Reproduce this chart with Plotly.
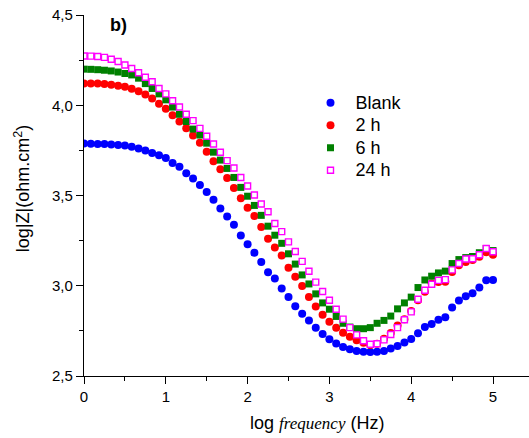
import plotly.graph_objects as go

log_freq = [0.0, 0.083, 0.167, 0.25, 0.333, 0.417, 0.5, 0.583, 0.667, 0.75,
            0.833, 0.917, 1.0, 1.083, 1.167, 1.25, 1.333, 1.417, 1.5, 1.583,
            1.667, 1.75, 1.833, 1.917, 2.0, 2.083, 2.167, 2.25, 2.333, 2.417,
            2.5, 2.583, 2.667, 2.75, 2.833, 2.917, 3.0, 3.083, 3.167, 3.25,
            3.333, 3.417, 3.5, 3.583, 3.667, 3.75, 3.833, 3.917, 4.0, 4.083,
            4.167, 4.25, 4.333, 4.417, 4.5, 4.583, 4.667, 4.75, 4.833, 4.917, 5.0]

blank = [3.788, 3.787, 3.786, 3.785, 3.783, 3.780, 3.777, 3.770, 3.760, 3.749,
         3.736, 3.723, 3.708, 3.680, 3.659, 3.623, 3.594, 3.558, 3.520, 3.476,
         3.428, 3.384, 3.338, 3.278, 3.230, 3.183, 3.132, 3.075, 3.040, 2.985,
         2.938, 2.887, 2.845, 2.808, 2.767, 2.733, 2.704, 2.680, 2.661, 2.648,
         2.638, 2.634, 2.633, 2.634, 2.638, 2.652, 2.666, 2.686, 2.705, 2.737,
         2.772, 2.788, 2.812, 2.825, 2.880, 2.918, 2.942, 2.958, 2.990, 3.030, 3.032]

h2 = [4.121, 4.121, 4.120, 4.118, 4.114, 4.108, 4.103, 4.091, 4.078, 4.060,
      4.038, 4.009, 3.980, 3.945, 3.910, 3.872, 3.833, 3.792, 3.742, 3.690,
      3.645, 3.597, 3.542, 3.485, 3.432, 3.387, 3.325, 3.260, 3.212, 3.168,
      3.100, 3.050, 2.998, 2.938, 2.885, 2.840, 2.800, 2.768, 2.740, 2.718,
      2.698, 2.684, 2.672, 2.679, 2.707, 2.738, 2.780, 2.815, 2.860, 2.920,
      2.967, 3.012, 3.021, 3.022, 3.076, 3.113, 3.132, 3.142, 3.160, 3.185, 3.172]

h6 = [4.200, 4.199, 4.197, 4.194, 4.190, 4.184, 4.176, 4.168, 4.150, 4.120,
      4.093, 4.063, 4.030, 3.990, 3.950, 3.910, 3.868, 3.835, 3.790, 3.740,
      3.696, 3.650, 3.600, 3.545, 3.496, 3.445, 3.390, 3.330, 3.280, 3.235,
      3.177, 3.120, 3.060, 3.010, 2.955, 2.905, 2.870, 2.830, 2.792, 2.771,
      2.762, 2.762, 2.768, 2.792, 2.808, 2.832, 2.872, 2.905, 2.937, 2.990,
      3.032, 3.053, 3.071, 3.081, 3.123, 3.145, 3.156, 3.162, 3.183, 3.206, 3.195]

h24 = [4.273, 4.272, 4.270, 4.265, 4.255, 4.242, 4.223, 4.204, 4.180, 4.155,
       4.130, 4.093, 4.063, 4.025, 3.990, 3.950, 3.915, 3.872, 3.828, 3.785,
       3.740, 3.693, 3.652, 3.600, 3.553, 3.503, 3.453, 3.410, 3.345, 3.300,
       3.243, 3.190, 3.135, 3.080, 3.020, 2.968, 2.920, 2.870, 2.815, 2.768,
       2.728, 2.695, 2.676, 2.679, 2.700, 2.730, 2.768, 2.812, 2.855, 2.925,
       2.975, 3.008, 3.030, 3.034, 3.088, 3.123, 3.148, 3.150, 3.172, 3.206, 3.188]

series_names = ["Blank", "2 h", "6 h", "24 h"]

FONT = "Liberation Sans, Arial, sans-serif"


def legend_label(name):
    return "<span style='font-size:18px'>&nbsp;" + name + "</span>"


fig = go.Figure()
fig.add_trace(go.Scatter(x=log_freq, y=blank, mode="markers", name=legend_label(series_names[0]),
                         marker=dict(symbol="circle", size=8, color="#0000FF", line=dict(width=0))))
fig.add_trace(go.Scatter(x=log_freq, y=h2, mode="markers", name=legend_label(series_names[1]),
                         marker=dict(symbol="circle", size=8, color="#FF0000", line=dict(width=0))))
fig.add_trace(go.Scatter(x=log_freq, y=h6, mode="markers", name=legend_label(series_names[2]),
                         marker=dict(symbol="square", size=7, color="#008000", line=dict(width=0))))
fig.add_trace(go.Scatter(x=log_freq, y=h24, mode="markers", name=legend_label(series_names[3]),
                         marker=dict(symbol="square", size=6, color="#FFFFFF",
                                     line=dict(width=1.4, color="#FF00FF"))))

axis_common = dict(
    showline=True, linecolor="black", linewidth=1.3,
    showgrid=False, zeroline=False,
    ticks="outside", tickcolor="black", tickwidth=1.2,
    tickfont=dict(family=FONT, size=15, color="black"),
)

fig.update_xaxes(range=[0, 5.44], dtick=1, tick0=0, ticklen=7,
                 minor=dict(dtick=0.5, tick0=0, ticks="outside", ticklen=4,
                            tickcolor="black", tickwidth=1.2),
                 **axis_common)
fig.update_yaxes(range=[2.5, 4.5], dtick=0.5, tick0=2.5, ticklen=7, tickformat=".1f",
                 minor=dict(dtick=0.25, tick0=2.5, ticks="outside", ticklen=4,
                            tickcolor="black", tickwidth=1.2),
                 **axis_common)

fig.update_layout(
    width=529, height=438,
    margin=dict(l=84, r=0, t=15, b=62),
    plot_bgcolor="white", paper_bgcolor="white",
    separators=", ",
    font=dict(family=FONT, color="black"),
    showlegend=True,
    legend=dict(x=0.509, y=0.802, xanchor="left", yanchor="top",
                bgcolor="rgba(0,0,0,0)", borderwidth=0,
                font=dict(family=FONT, size=15, color="black"),
                itemwidth=30),
    annotations=[
        dict(text="log <i><span style='font-family:Liberation Serif, Times New Roman, serif;font-size:17px'>frequency</span></i> (Hz)",
             xref="paper", yref="paper", x=0.5236, y=-0.131,
             xanchor="center", yanchor="middle", showarrow=False,
             font=dict(family=FONT, size=18, color="black")),
        dict(text="log|Z|(ohm.cm<sup>2</sup>)",
             xref="paper", yref="paper", x=(22 - 84) / 445, y=1 - (189 - 15) / 360.7,
             xanchor="center", yanchor="middle", textangle=-90, showarrow=False,
             font=dict(family=FONT, size=18, color="black")),
        dict(text="<b>b)</b>",
             xref="paper", yref="paper", x=(118.5 - 84) / 445, y=1 - (25 - 15) / 360.7,
             xanchor="center", yanchor="middle", showarrow=False,
             font=dict(family=FONT, size=18, color="black")),
    ],
)

fig.write_html("out.html")
